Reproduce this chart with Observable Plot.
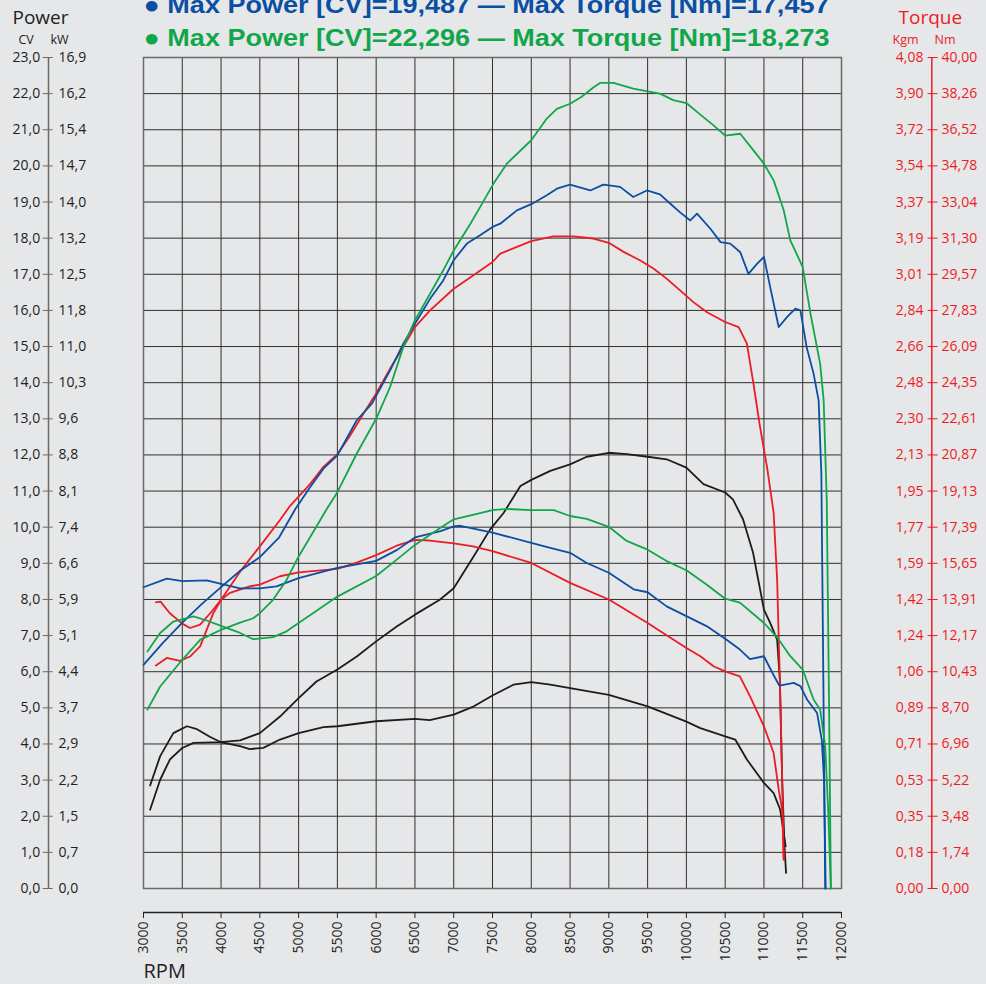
<!DOCTYPE html>
<html><head><meta charset="utf-8">
<script src="https://cdn.jsdelivr.net/npm/d3@7"></script>
<script src="https://cdn.jsdelivr.net/npm/@observablehq/plot@0.6"></script>
<style>
html,body{margin:0;padding:0;background:#e6e7e9;}
#chart svg{display:block;overflow:visible;}
</style></head><body><div id="chart"></div>
<script>
// ---- tick values & labels ----
const xTicks = [3000,3500,4000,4500,5000,5500,6000,6500,7000,7500,8000,8500,9000,9500,10000,10500,11000,11500,12000];
const yTicks = [0,1,2,3,4,5,6,7,8,9,10,11,12,13,14,15,16,17,18,19,20,21,22,23];
const cvLabels = ["0,0","1,0","2,0","3,0","4,0","5,0","6,0","7,0","8,0","9,0","10,0","11,0","12,0","13,0","14,0","15,0","16,0","17,0","18,0","19,0","20,0","21,0","22,0","23,0"];
const kwLabels = ["0,0","0,7","1,5","2,2","2,9","3,7","4,4","5,1","5,9","6,6","7,4","8,1","8,8","9,6","10,3","11,0","11,8","12,5","13,2","14,0","14,7","15,4","16,2","16,9"];
const kgmLabels = ["0,00","0,18","0,35","0,53","0,71","0,89","1,06","1,24","1,42","1,59","1,77","1,95","2,13","2,30","2,48","2,66","2,84","3,01","3,19","3,37","3,54","3,72","3,90","4,08"];
const nmLabels = ["0,00","1,74","3,48","5,22","6,96","8,70","10,43","12,17","13,91","15,65","17,39","19,13","20,87","22,61","24,35","26,09","27,83","29,57","31,30","33,04","34,78","36,52","38,26","40,00"];
const cvMax = 23, nmMax = 40;

// ---- titles ----
const titleBlue = "● Max Power [CV]=19,487 — Max Torque [Nm]=17,457";
const titleGreen = "● Max Power [CV]=22,296 — Max Torque [Nm]=18,273";

// ---- series: [rpm, value] ; power in CV, torque in Nm ----
const bluePower = [[3000,6.19],[3250,6.80],[3500,7.36],[3750,7.87],[4000,8.34],[4250,8.80],[4500,9.17],[4750,9.72],[4960,10.51],[5150,11.11],[5320,11.62],[5500,11.99],[5750,12.96],[5945,13.42],[6180,14.34],[6350,15.08],[6500,15.63],[6695,16.32],[6865,16.83],[7000,17.39],[7170,17.85],[7340,18.08],[7500,18.31],[7600,18.40],[7815,18.77],[8000,18.94],[8200,19.19],[8330,19.37],[8500,19.48],[8760,19.32],[8930,19.48],[9145,19.42],[9315,19.14],[9490,19.32],[9660,19.21],[9790,18.96],[9915,18.72],[10050,18.49],[10137,18.68],[10310,18.26],[10440,17.89],[10566,17.85],[10695,17.61],[10800,17.01],[10910,17.29],[11000,17.48],[11080,16.65],[11190,15.54],[11300,15.82],[11405,16.05],[11470,16.00],[11550,14.99],[11640,14.25],[11705,13.51],[11740,11.5],[11765,6.0],[11790,0]];
const blueTorque = [[3000,14.50],[3300,14.92],[3500,14.80],[3815,14.83],[4000,14.66],[4245,14.45],[4500,14.45],[4715,14.54],[5000,14.94],[5500,15.43],[6000,15.77],[6270,16.30],[6500,16.90],[6830,17.20],[7000,17.43],[7085,17.46],[7500,17.13],[8000,16.64],[8245,16.40],[8500,16.16],[8715,15.67],[9000,15.20],[9320,14.40],[9500,14.26],[9745,13.58],[10000,13.11],[10260,12.63],[10500,12.02],[10690,11.50],[10820,11.04],[11000,11.18],[11120,10.30],[11200,9.76],[11385,9.90],[11470,9.74],[11555,9.10],[11685,8.45],[11745,7.17],[11775,5.23],[11796,0]];
const greenPower = [[3050,4.95],[3215,5.59],[3500,6.33],[3730,6.88],[4000,7.16],[4245,7.36],[4415,7.48],[4500,7.62],[4670,7.99],[4845,8.54],[5000,9.19],[5230,10.02],[5365,10.51],[5500,10.97],[5750,12.04],[6000,13.00],[6180,13.88],[6350,14.99],[6500,15.73],[6695,16.46],[6865,17.11],[7000,17.66],[7215,18.40],[7340,18.86],[7513,19.51],[7685,20.06],[8000,20.71],[8200,21.31],[8330,21.58],[8500,21.72],[8640,21.90],[8800,22.17],[8890,22.30],[9060,22.30],[9315,22.14],[9500,22.06],[9660,22.00],[9830,21.82],[10000,21.74],[10180,21.42],[10350,21.12],[10500,20.84],[10695,20.89],[10865,20.43],[11000,20.06],[11125,19.60],[11255,18.77],[11340,17.94],[11500,17.20],[11600,15.91],[11725,14.52],[11770,13.51],[11810,10.74],[11840,5.0],[11863,0]];
const greenTorque = [[3050,11.41],[3215,12.30],[3385,12.85],[3645,13.10],[3815,12.90],[4000,12.64],[4245,12.30],[4415,12.00],[4670,12.10],[4845,12.38],[5000,12.78],[5500,14.05],[6000,15.04],[6265,15.83],[6500,16.54],[6830,17.36],[7000,17.77],[7260,18.00],[7500,18.21],[7690,18.27],[8000,18.21],[8290,18.21],[8500,17.93],[8715,17.79],[9000,17.41],[9230,16.73],[9500,16.31],[9745,15.76],[10000,15.32],[10260,14.63],[10500,13.95],[10690,13.76],[11000,12.78],[11160,12.14],[11340,11.18],[11500,10.54],[11640,9.10],[11725,8.61],[11790,6.85],[11830,3.63],[11863,0]];
const redPower = [[3160,6.17],[3300,6.38],[3470,6.30],[3600,6.42],[3730,6.70],[3900,7.62],[4000,7.99],[4245,8.77],[4500,9.47],[4760,10.20],[4893,10.60],[5150,11.20],[5320,11.67],[5500,12.02],[5665,12.54],[5835,13.14],[6000,13.70],[6180,14.39],[6350,14.99],[6500,15.54],[6695,16.00],[7000,16.60],[7255,16.97],[7500,17.34],[7600,17.57],[7815,17.76],[8000,17.92],[8285,18.05],[8545,18.05],[8800,17.99],[9000,17.87],[9190,17.62],[9400,17.39],[9575,17.16],[9745,16.88],[9915,16.56],[10090,16.23],[10266,15.95],[10500,15.68],[10674,15.54],[10780,15.08],[10865,13.97],[10950,12.77],[11040,11.66],[11125,10.40],[11170,8.55],[11205,5.78],[11235,3.01],[11255,0.80]];
const redTorque = [[3160,13.77],[3220,13.81],[3340,13.25],[3500,12.75],[3600,12.54],[3730,12.70],[3860,13.25],[4000,13.90],[4115,14.23],[4370,14.54],[4500,14.63],[4760,15.03],[5000,15.22],[5500,15.39],[5750,15.69],[6000,16.05],[6265,16.50],[6500,16.78],[6690,16.75],[7000,16.61],[7250,16.47],[7500,16.24],[8000,15.67],[8500,14.71],[9000,13.91],[9500,12.78],[10000,11.58],[10180,11.18],[10350,10.70],[10500,10.45],[10690,10.21],[10824,9.22],[11000,7.81],[11125,6.52],[11190,4.77],[11235,3.79],[11255,1.39]];
const blackPower = [[3085,2.18],[3215,3.01],[3340,3.57],[3500,3.89],[3645,4.03],[4000,4.05],[4245,4.10],[4500,4.30],[4760,4.76],[5000,5.27],[5230,5.73],[5500,6.06],[5750,6.42],[6000,6.84],[6265,7.25],[6500,7.58],[6820,7.99],[7000,8.31],[7260,9.20],[7470,9.94],[7645,10.40],[7860,11.14],[8000,11.31],[8245,11.56],[8500,11.74],[8715,11.95],[9000,12.06],[9230,12.02],[9500,11.95],[9745,11.88],[10000,11.65],[10220,11.19],[10500,10.96],[10600,10.77],[10730,10.22],[10860,9.29],[11000,7.72],[11080,7.35],[11170,6.89],[11205,5.78],[11235,3.01],[11265,1.17],[11285,0.43]];
const blackTorque = [[3085,4.96],[3215,6.37],[3385,7.48],[3560,7.81],[3690,7.67],[3860,7.29],[4000,7.04],[4245,6.85],[4370,6.71],[4545,6.77],[4760,7.17],[5000,7.48],[5320,7.77],[5500,7.81],[6000,8.05],[6500,8.16],[6690,8.10],[7000,8.37],[7260,8.77],[7500,9.29],[7770,9.81],[8000,9.93],[8245,9.81],[8500,9.65],[9000,9.32],[9500,8.77],[10000,8.03],[10180,7.72],[10500,7.32],[10630,7.17],[10780,6.21],[11000,5.08],[11125,4.59],[11210,3.79],[11280,2.03]];

const BLUE = "#0b4fa3", GREEN = "#12a64b", RED = "#ec1c24", BLACK = "#1c1c1c";
const TXT = "#222", AX = "#6a6a6a";
const TITLE_FONT = "'Liberation Sans', Arial, sans-serif";

const powerLine = (data, color) => Plot.line(data, {x: d => d[0], y: d => d[1], stroke: color, strokeWidth: 1.8});
const torqueLine = (data, color) => Plot.line(data, {x: d => d[0], y: d => d[1] * cvMax / nmMax, stroke: color, strokeWidth: 1.8});
const label = (s, o) => Plot.text([s], {text: d => d, lineAnchor: "middle", textAnchor: "start", ...o});

const idx = yTicks.map((d, i) => i);

const chart = Plot.plot({
  width: 986, height: 984,
  marginLeft: 143, marginRight: 145, marginTop: 57, marginBottom: 96,
  style: {background: "#e6e7e9", fontFamily: "'Open Sans', sans-serif", fontSize: "14px", color: TXT},
  x: {domain: [3000, 12000]},
  y: {domain: [0, cvMax]},
  marks: [
    Plot.ruleX(xTicks, {stroke: "#2f2f2f", strokeWidth: 1}),
    Plot.ruleY(yTicks, {stroke: "#2f2f2f", strokeWidth: 1}),
    Plot.frame({stroke: AX, strokeWidth: 1.5}),
    torqueLine(blackTorque, BLACK), powerLine(blackPower, BLACK),
    torqueLine(redTorque, RED), powerLine(redPower, RED),
    torqueLine(blueTorque, BLUE), powerLine(bluePower, BLUE),
    torqueLine(greenTorque, GREEN), powerLine(greenPower, GREEN),
    // left axis
    Plot.ruleX([3000], {y1: 0, y2: cvMax, dx: -95, stroke: AX, strokeWidth: 1.5}),
    Plot.axisY({anchor: "left", ticks: yTicks, tickSize: 10, tickPadding: 3, dx: -90.3, stroke: AX, fill: TXT, fontSize: 14, tickFormat: d => cvLabels[yTicks.indexOf(d)], label: null}),
    Plot.text(idx, {y: i => yTicks[i], text: i => kwLabels[i], frameAnchor: "left", dx: -85, textAnchor: "start", fill: TXT, fontSize: 14}),
    // right axis
    Plot.ruleX([12000], {y1: 0, y2: cvMax, dx: 90.3, stroke: RED, strokeWidth: 1.5}),
    Plot.axisY({anchor: "right", ticks: yTicks, tickSize: 10, tickPadding: 4.5, dx: 85.6, stroke: RED, fill: RED, fontSize: 14, tickFormat: d => nmLabels[yTicks.indexOf(d)], label: null}),
    Plot.text(idx, {y: i => yTicks[i], text: i => kgmLabels[i], frameAnchor: "right", dx: 82, textAnchor: "end", fill: RED, fontSize: 14}),
    // x axis
    Plot.ruleY([0], {x1: 3000, x2: 12000, dy: 24, stroke: TXT, strokeWidth: 1.5}),
    Plot.axisX({anchor: "bottom", ticks: xTicks, tickSize: 6, dy: 24, tickRotate: -90, textAnchor: "end", tickPadding: 3, tickFormat: "d", stroke: TXT, fill: TXT, fontSize: 14, label: null}),
    // labels
    label("RPM", {frameAnchor: "bottom-left", dy: 83, fontSize: 20, fill: TXT}),
    label("Power", {frameAnchor: "top-left", dx: -131, dy: -40, fontSize: 19, fill: TXT}),
    label("CV", {frameAnchor: "top-left", dx: -125, dy: -17.5, fontSize: 12.5, fill: TXT}),
    label("kW", {frameAnchor: "top-left", dx: -93, dy: -17.5, fontSize: 12.5, fill: TXT}),
    label("Torque", {frameAnchor: "top-right", dx: 57, dy: -40, fontSize: 19, fill: RED}),
    label("Kgm", {frameAnchor: "top-right", dx: 51, dy: -17.5, fontSize: 12.5, fill: RED}),
    label("Nm", {frameAnchor: "top-right", dx: 93, dy: -17.5, fontSize: 12.5, fill: RED}),
    label(titleBlue, {frameAnchor: "top-left", dy: -52, fontSize: 24, fontWeight: "bold", fontFamily: TITLE_FONT, fill: BLUE}),
    label(titleGreen, {frameAnchor: "top-left", dy: -19, fontSize: 24, fontWeight: "bold", fontFamily: TITLE_FONT, fill: GREEN})
  ]
});
// stretch the title lines to the width they have in the reference (wider bold face)
d3.select(chart).selectAll("text")
  .filter(function() { return this.textContent.startsWith("●"); })
  .attr("textLength", 686).attr("lengthAdjust", "spacingAndGlyphs");
document.getElementById("chart").appendChild(chart);
</script></body></html>
